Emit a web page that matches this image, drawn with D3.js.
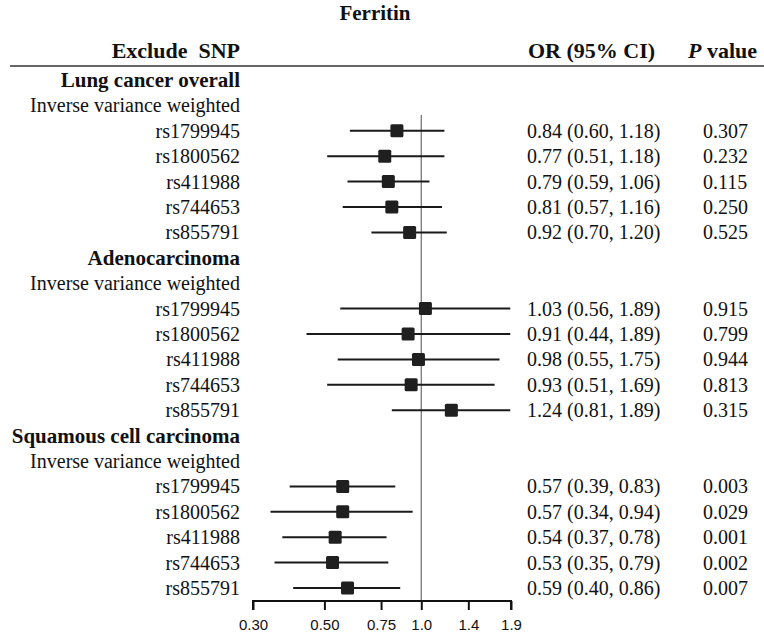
<!DOCTYPE html>
<meta charset="utf-8">
<title>Ferritin forest plot</title>
<style>
body { margin: 0; background: #fff; overflow: hidden; }
text { font-family: "Liberation Serif", "Times New Roman", serif; fill: #111; white-space: pre; }
.tick text { font-family: "Liberation Sans", Arial, sans-serif; }
</style>
<script src="https://d3js.org/d3.v7.min.js"></script>
<div id="chart"></div>
<script>

var groups = ["Lung cancer overall", "Adenocarcinoma", "Squamous cell carcinoma"];
var snps = ["rs1799945", "rs1800562", "rs411988", "rs744653", "rs855791"];

// odds ratios, CI bounds and p values per group (one entry per excluded SNP)
var orVals = [
  [0.84, 0.77, 0.79, 0.81, 0.92],
  [1.03, 0.91, 0.98, 0.93, 1.24],
  [0.57, 0.57, 0.54, 0.53, 0.59]
];
var loVals = [
  [0.60, 0.51, 0.59, 0.57, 0.70],
  [0.56, 0.44, 0.55, 0.51, 0.81],
  [0.39, 0.34, 0.37, 0.35, 0.40]
];
var hiVals = [
  [1.18, 1.18, 1.06, 1.16, 1.20],
  [1.89, 1.89, 1.75, 1.69, 1.89],
  [0.83, 0.94, 0.78, 0.79, 0.86]
];
var pVals = [
  ["0.307", "0.232", "0.115", "0.250", "0.525"],
  ["0.915", "0.799", "0.944", "0.813", "0.315"],
  ["0.003", "0.029", "0.001", "0.002", "0.007"]
];
var ticks = [0.30, 0.50, 0.75, 1.0, 1.4, 1.9];
var tickLabels = ["0.30", "0.50", "0.75", "1.0", "1.4", "1.9"];

var width = 764, height = 635;

var svg = d3.select("#chart").append("svg")
    .attr("width", width)
    .attr("height", height)
    .style("display", "block");

// build the row list
var rows = [];
groups.forEach(function(g, gi) {
  rows.push({label: g, type: "group"});
  rows.push({label: "Inverse variance weighted", type: "method"});
  snps.forEach(function(s, si) {
    rows.push({label: s, type: "snp",
      or: orVals[gi][si], lo: loVals[gi][si], hi: hiVals[gi][si], p: pVals[gi][si]});
  });
});

var x = d3.scaleLog()
    .domain([0.30, 1.9])
    .range([253, 511]);

var y = d3.scaleLinear()
    .domain([0, rows.length - 1])
    .range([80, 588]);

var fmt = d3.format(".2f");

// title and header
svg.append("text")
    .attr("x", 375).attr("y", 20)
    .attr("text-anchor", "middle")
    .style("font-weight", "bold")
    .style("font-size", "21px")
    .text("Ferritin");

svg.append("text")
    .attr("x", 240).attr("y", 58)
    .attr("text-anchor", "end")
    .style("font-weight", "bold")
    .style("font-size", "22px")
    .text("Exclude  SNP");

svg.append("text")
    .attr("x", 528).attr("y", 58)
    .style("font-weight", "bold")
    .style("font-size", "22px")
    .text("OR (95% CI)");

var pv = svg.append("text")
    .attr("x", 688).attr("y", 58)
    .style("font-weight", "bold")
    .style("font-size", "22px");
pv.append("tspan").style("font-style", "italic").text("P");
pv.append("tspan").text(" value");

svg.append("line")
    .attr("x1", 10).attr("x2", width)
    .attr("y1", 66).attr("y2", 66)
    .attr("stroke", "#666")
    .attr("stroke-width", 2);

// reference line at OR = 1
svg.append("line")
    .attr("x1", x(1)).attr("x2", x(1))
    .attr("y1", 115).attr("y2", 600)
    .attr("stroke", "#777")
    .attr("stroke-width", 1.3);

// row labels
svg.selectAll("text.lab")
    .data(rows)
  .enter().append("text")
    .attr("class", "lab")
    .attr("x", 240)
    .attr("y", function(d, i) { return y(i); })
    .attr("dy", "0.35em")
    .attr("text-anchor", "end")
    .style("font-size", function(d) { return d.type == "group" ? "21px" : "20px"; })
    .style("font-weight", function(d) { return d.type == "group" ? "bold" : "normal"; })
    .text(function(d) { return d.label; });

var est = rows.map(function(d, i) { d.i = i; return d; })
    .filter(function(d) { return d.type == "snp"; });

svg.selectAll("line.ci")
    .data(est)
  .enter().append("line")
    .attr("class", "ci")
    .attr("x1", function(d) { return x(d.lo); })
    .attr("x2", function(d) { return x(d.hi); })
    .attr("y1", function(d) { return y(d.i); })
    .attr("y2", function(d) { return y(d.i); })
    .attr("stroke", "#1a1a1a")
    .attr("stroke-width", 2);

svg.selectAll("rect.pt")
    .data(est)
  .enter().append("rect")
    .attr("class", "pt")
    .attr("x", function(d) { return x(d.or) - 6.5; })
    .attr("y", function(d) { return y(d.i) - 6.5; })
    .attr("width", 13).attr("height", 13)
    .attr("rx", 1.5)
    .attr("fill", "#1f1f1f");

svg.selectAll("text.ci")
    .data(est)
  .enter().append("text")
    .attr("class", "ci")
    .attr("x", 527)
    .attr("y", function(d) { return y(d.i); })
    .attr("dy", "0.35em")
    .style("font-size", "20px")
    .text(function(d) { return fmt(d.or) + " (" + fmt(d.lo) + ", " + fmt(d.hi) + ")"; });

svg.selectAll("text.p")
    .data(est)
  .enter().append("text")
    .attr("class", "p")
    .attr("x", 703)
    .attr("y", function(d) { return y(d.i); })
    .attr("dy", "0.35em")
    .style("font-size", "20px")
    .text(function(d) { return d.p; });

// axis
var axis = svg.append("g")
    .attr("transform", "translate(0,601)")
    .call(d3.axisBottom(x)
      .tickValues(ticks)
      .tickFormat(function(d, i) { return tickLabels[i]; })
      .tickSize(9)
      .tickPadding(9));

axis.select(".domain")
    .attr("d", "M" + x(0.30) + ",9V0H" + x(1.9) + "V9")
    .attr("stroke", "#111")
    .attr("stroke-width", 2);
axis.selectAll(".tick line").attr("stroke", "#111").attr("stroke-width", 2);
axis.selectAll(".tick text").style("font-size", "15px").attr("fill", "#222");

</script>
